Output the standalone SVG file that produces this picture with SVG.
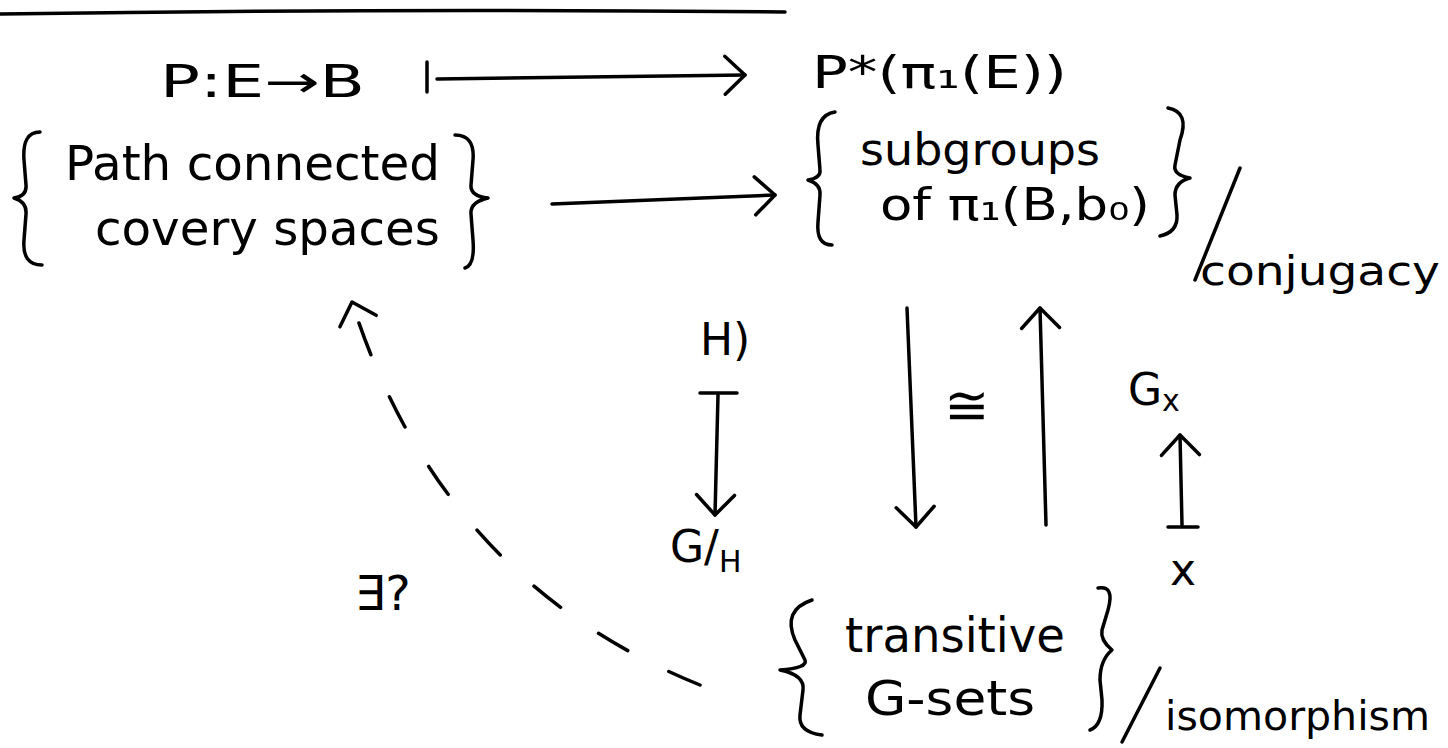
<svg xmlns="http://www.w3.org/2000/svg" width="1448" height="748" viewBox="0 0 1448 748">
<defs>
<style>
.s{fill:none;stroke:#000;stroke-width:3.5;stroke-linecap:round;stroke-linejoin:round}
.t{font-family:"DejaVu Sans","Liberation Sans",sans-serif;fill:#000}
</style>
<marker id="arr" markerUnits="userSpaceOnUse" viewBox="0 0 26 44" refX="23" refY="22" markerWidth="26" markerHeight="44" orient="auto">
<path d="M3,3 L23,22 L3,41" fill="none" stroke="#000" stroke-width="3.5" stroke-linecap="round" stroke-linejoin="round"/>
</marker>
</defs>
<rect width="1448" height="748" fill="#fff"/>
<g id="connectors">
<path class="s" d="M 0 14 Q 400 8 785 12"/>
<path class="s" d="M 427 62 L 427 92"/>
<path class="s" d="M 437 79 L 745 75" marker-end="url(#arr)"/>
<path class="s" d="M 552 204 L 775 195" marker-end="url(#arr)"/>
<path class="s" d="M 700 393 L 737 393"/>
<path class="s" d="M 718 395 L 715 515" marker-end="url(#arr)"/>
<path class="s" d="M 907 308 L 916 527" marker-end="url(#arr)"/>
<path class="s" d="M 1046 525 L 1040 308" marker-end="url(#arr)"/>
<path class="s" d="M 1168 527 L 1198 527"/>
<path class="s" d="M 1182 525 L 1180 435" marker-end="url(#arr)"/>
<path class="s" d="M 700 685 Q 440 580 352 302" stroke-dasharray="34 46" marker-end="url(#arr)"/>
</g>
<g id="node-map">
<text class="t" x="160" y="97" font-size="44" textLength="205" lengthAdjust="spacingAndGlyphs">P:E→B</text>
</g>
<g id="node-pstar">
<text class="t" x="812" y="88" font-size="44" textLength="255" lengthAdjust="spacingAndGlyphs">P*(π₁(E))</text>
</g>
<g id="node-covering">
<path class="s" d="M 40 132 Q 22 132 24 160 L 26 185 Q 27 196 14 198 Q 27 202 26 214 L 24 240 Q 22 265 42 265"/>
<text class="t" x="65" y="180" font-size="48" textLength="375" lengthAdjust="spacingAndGlyphs">Path connected</text>
<text class="t" x="95" y="245" font-size="48" textLength="345" lengthAdjust="spacingAndGlyphs">covery spaces</text>
<path class="s" d="M 455 135 Q 475 135 473 160 L 471 185 Q 470 196 488 198 Q 470 202 471 214 L 473 240 Q 475 265 465 268"/>
</g>
<g id="node-subgroups">
<path class="s" d="M 835 112 Q 815 115 818 145 L 820 170 Q 821 178 808 180 Q 821 184 820 195 L 818 222 Q 816 245 832 245"/>
<text class="t" x="860" y="165" font-size="44" textLength="240" lengthAdjust="spacingAndGlyphs">subgroups</text>
<text class="t" x="880" y="220" font-size="44" textLength="270" lengthAdjust="spacingAndGlyphs">of π₁(B,b₀)</text>
<path class="s" d="M 1168 108 Q 1190 112 1180 140 L 1175 165 Q 1173 175 1190 178 Q 1175 182 1175 195 L 1177 215 Q 1178 232 1160 236"/>
<path class="s" d="M 1240 168 L 1195 280"/>
<text class="t" x="1200" y="285" font-size="40" textLength="240" lengthAdjust="spacingAndGlyphs">conjugacy</text>
</g>
<g id="node-H">
<text class="t" x="700" y="355" font-size="44">H)</text>
</g>
<g id="node-GH">
<text class="t" x="670" y="562" font-size="44">G/<tspan font-size="30" dy="10">H</tspan></text>
</g>
<g id="node-iso">
<text class="t" x="944" y="424" font-size="54">≅</text>
</g>
<g id="node-Gx">
<text class="t" x="1128" y="405" font-size="44">G<tspan font-size="30" dy="6">x</tspan></text>
</g>
<g id="node-x">
<text class="t" x="1170" y="585" font-size="44">x</text>
</g>
<g id="node-exists">
<text class="t" x="355" y="610" font-size="48">∃?</text>
</g>
<g id="node-gsets">
<path class="s" d="M 812 600 Q 782 610 795 640 L 805 660 Q 808 668 780 670 Q 805 675 803 690 L 800 715 Q 798 732 822 735"/>
<text class="t" x="845" y="652" font-size="48" textLength="220" lengthAdjust="spacingAndGlyphs">transitive</text>
<text class="t" x="865" y="715" font-size="48" textLength="170" lengthAdjust="spacingAndGlyphs">G-sets</text>
<path class="s" d="M 1098 588 Q 1115 585 1108 610 L 1102 630 Q 1100 640 1112 650 Q 1100 660 1100 680 L 1102 700 Q 1103 725 1090 730"/>
<path class="s" d="M 1160 668 L 1122 742"/>
<text class="t" x="1165" y="730" font-size="40" textLength="265" lengthAdjust="spacingAndGlyphs">isomorphism</text>
</g>
</svg>
